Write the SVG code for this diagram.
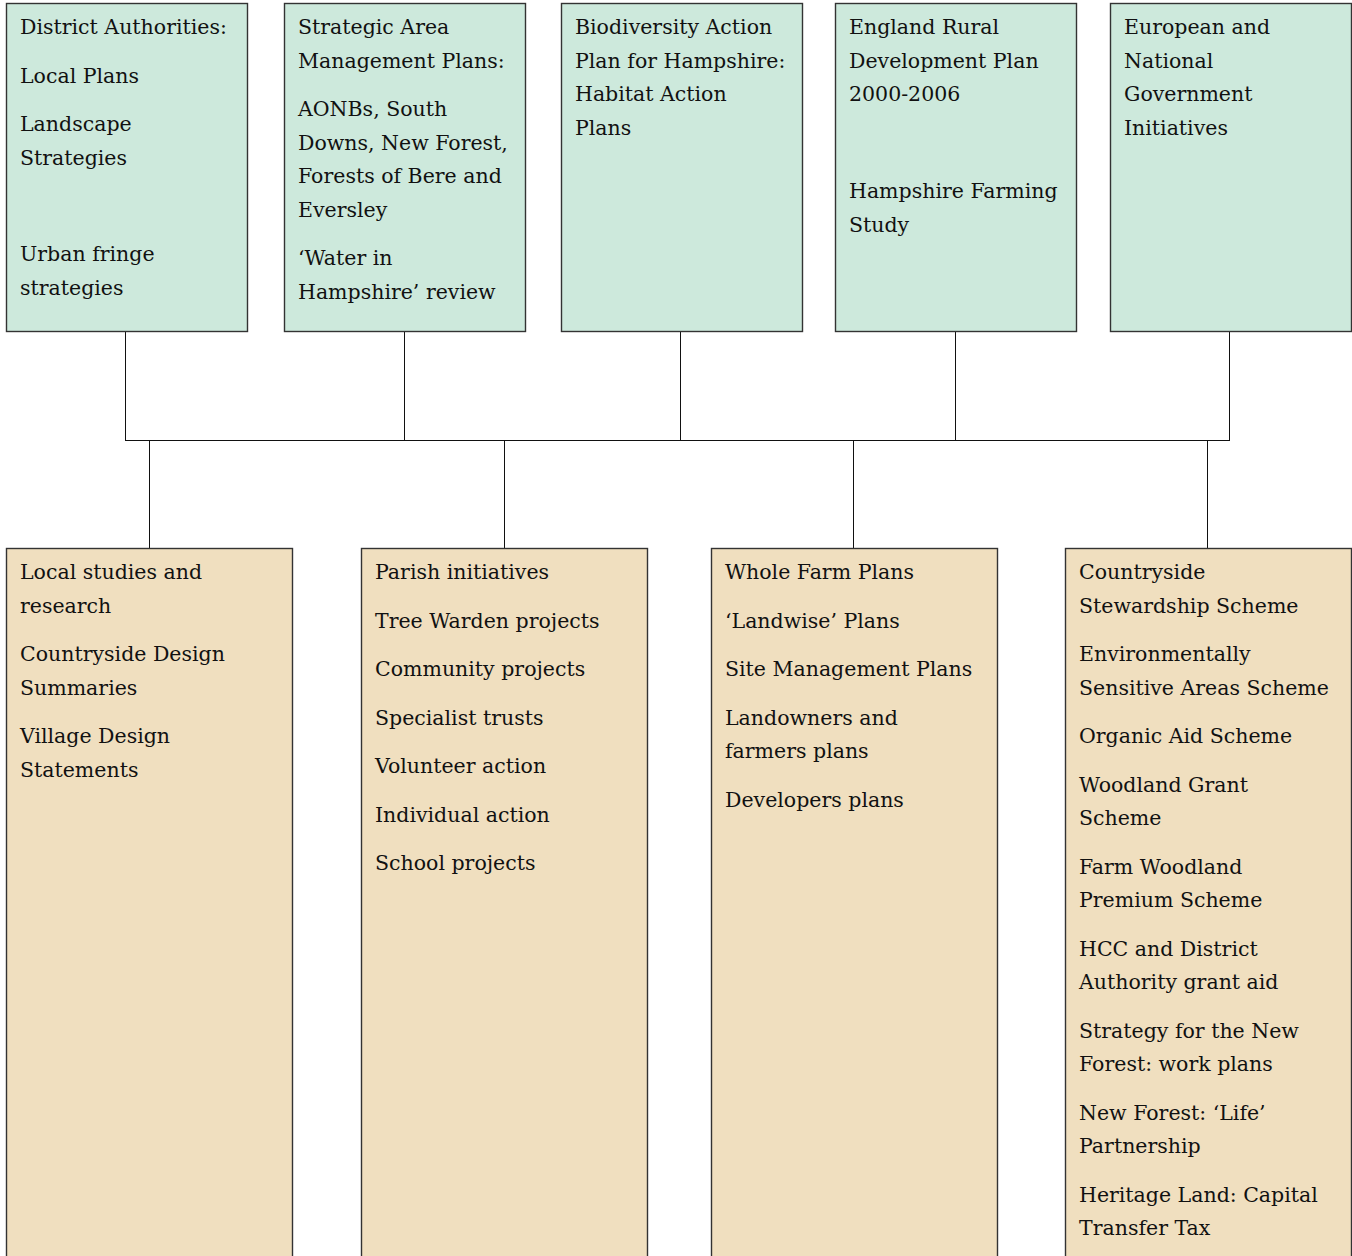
<svg xmlns="http://www.w3.org/2000/svg" width="1352" height="1256" viewBox="0 0 1352 1256">
<style>
.top{fill:#cde9dc;stroke:#333;stroke-width:1.4}
.bot{fill:#f0dfbf;stroke:#333;stroke-width:1.4}
text{font-family:"DejaVu Serif","Liberation Serif",serif;font-size:20.5px;fill:#111}
.c{stroke:#111;stroke-width:1;fill:none}
</style>
<rect width="1352" height="1256" fill="#fff"/>
<g id="connectors">
<path class="c" d="M125.5,331V440.5M404.5,331V440.5M680.5,331V440.5M955.5,331V440.5M1229.5,331V440.5M125,440.5H1230M149.5,440.5V548M504.5,440.5V548M853.5,440.5V548M1207.5,440.5V548"/>
</g>
<g id="n1"><rect class="top" x="6.5" y="3.5" width="241" height="328"/>
<text x="20"><tspan y="34">District Authorities:</tspan><tspan x="20" y="82.5">Local Plans</tspan><tspan x="20" y="131">Landscape</tspan><tspan x="20" y="164.5">Strategies</tspan><tspan x="20" y="261">Urban fringe</tspan><tspan x="20" y="294.5">strategies</tspan></text></g>
<g id="n2"><rect class="top" x="284.5" y="3.5" width="241" height="328"/>
<text x="298"><tspan y="34">Strategic Area</tspan><tspan x="298" y="67.5">Management Plans:</tspan><tspan x="298" y="116">AONBs, South</tspan><tspan x="298" y="149.5">Downs, New Forest,</tspan><tspan x="298" y="183">Forests of Bere and</tspan><tspan x="298" y="216.5">Eversley</tspan><tspan x="298" y="265">‘Water in</tspan><tspan x="298" y="298.5">Hampshire’ review</tspan></text></g>
<g id="n3"><rect class="top" x="561.5" y="3.5" width="241" height="328"/>
<text x="575"><tspan y="34">Biodiversity Action</tspan><tspan x="575" y="67.5">Plan for Hampshire:</tspan><tspan x="575" y="101">Habitat Action</tspan><tspan x="575" y="134.5">Plans</tspan></text></g>
<g id="n4"><rect class="top" x="835.5" y="3.5" width="241" height="328"/>
<text x="849"><tspan y="34">England Rural</tspan><tspan x="849" y="67.5">Development Plan</tspan><tspan x="849" y="101">2000-2006</tspan><tspan x="849" y="198">Hampshire Farming</tspan><tspan x="849" y="231.5">Study</tspan></text></g>
<g id="n5"><rect class="top" x="1110.5" y="3.5" width="241" height="328"/>
<text x="1124"><tspan y="34">European and</tspan><tspan x="1124" y="67.5">National</tspan><tspan x="1124" y="101">Government</tspan><tspan x="1124" y="134.5">Initiatives</tspan></text></g>
<g id="b1"><rect class="bot" x="6.5" y="548.5" width="286" height="720"/>
<text x="20"><tspan y="579">Local studies and</tspan><tspan x="20" y="612.5">research</tspan><tspan x="20" y="661">Countryside Design</tspan><tspan x="20" y="694.5">Summaries</tspan><tspan x="20" y="743">Village Design</tspan><tspan x="20" y="776.5">Statements</tspan></text></g>
<g id="b2"><rect class="bot" x="361.5" y="548.5" width="286" height="720"/>
<text x="375"><tspan y="579">Parish initiatives</tspan><tspan x="375" y="627.5">Tree Warden projects</tspan><tspan x="375" y="676">Community projects</tspan><tspan x="375" y="724.5">Specialist trusts</tspan><tspan x="375" y="773">Volunteer action</tspan><tspan x="375" y="821.5">Individual action</tspan><tspan x="375" y="870">School projects</tspan></text></g>
<g id="b3"><rect class="bot" x="711.5" y="548.5" width="286" height="720"/>
<text x="725"><tspan y="579">Whole Farm Plans</tspan><tspan x="725" y="627.5">‘Landwise’ Plans</tspan><tspan x="725" y="676">Site Management Plans</tspan><tspan x="725" y="724.5">Landowners and</tspan><tspan x="725" y="758">farmers plans</tspan><tspan x="725" y="806.5">Developers plans</tspan></text></g>
<g id="b4"><rect class="bot" x="1065.5" y="548.5" width="286" height="720"/>
<text x="1079"><tspan y="579">Countryside</tspan><tspan x="1079" y="612.5">Stewardship Scheme</tspan><tspan x="1079" y="661">Environmentally</tspan><tspan x="1079" y="694.5">Sensitive Areas Scheme</tspan><tspan x="1079" y="743">Organic Aid Scheme</tspan><tspan x="1079" y="791.5">Woodland Grant</tspan><tspan x="1079" y="825">Scheme</tspan><tspan x="1079" y="873.5">Farm Woodland</tspan><tspan x="1079" y="907">Premium Scheme</tspan><tspan x="1079" y="955.5">HCC and District</tspan><tspan x="1079" y="989">Authority grant aid</tspan><tspan x="1079" y="1037.5">Strategy for the New</tspan><tspan x="1079" y="1071">Forest: work plans</tspan><tspan x="1079" y="1119.5">New Forest: ‘Life’</tspan><tspan x="1079" y="1153">Partnership</tspan><tspan x="1079" y="1201.5">Heritage Land: Capital</tspan><tspan x="1079" y="1235">Transfer Tax</tspan></text></g>
</svg>
